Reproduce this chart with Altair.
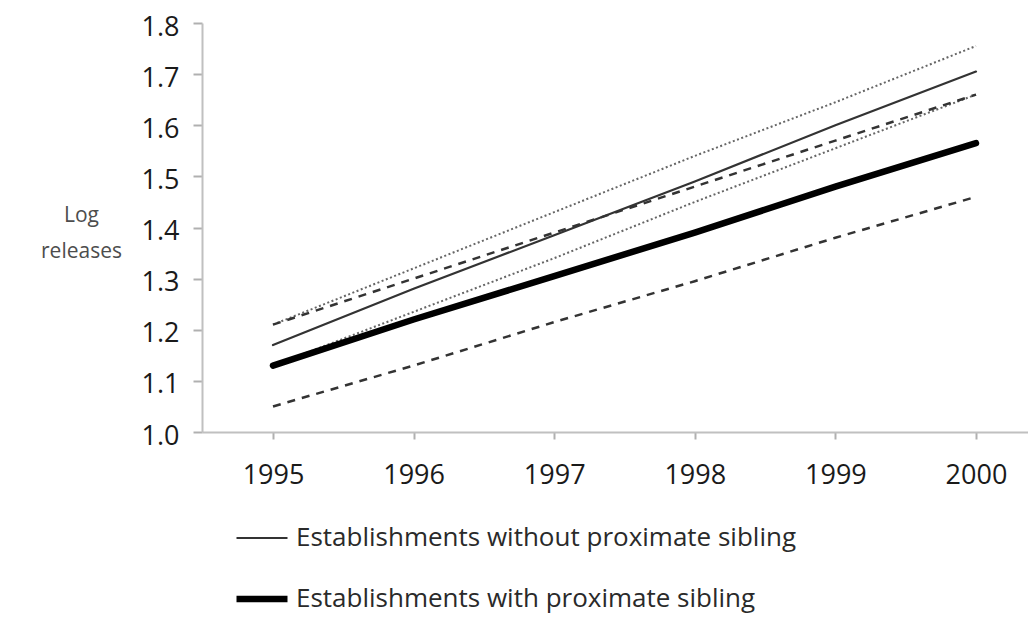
import altair as alt
import pandas as pd

years = [1995, 1996, 1997, 1998, 1999, 2000]

without_sib = [1.17, 1.28, 1.385, 1.49, 1.60, 1.705]
with_sib = [1.13, 1.22, 1.305, 1.39, 1.48, 1.565]

without_upper = [1.21, 1.32, 1.43, 1.54, 1.645, 1.755]
without_lower = [1.13, 1.235, 1.34, 1.45, 1.555, 1.66]
with_upper = [1.21, 1.30, 1.39, 1.48, 1.57, 1.66]
with_lower = [1.05, 1.13, 1.215, 1.295, 1.38, 1.46]

y_ticks = [1.0, 1.1, 1.2, 1.3, 1.4, 1.5, 1.6, 1.7, 1.8]

name_without = "Establishments without proximate sibling"
name_with = "Establishments with proximate sibling"

main_df = pd.DataFrame(
    {"year": years * 2,
     "value": without_sib + with_sib,
     "series": [name_without] * 6 + [name_with] * 6}
)
dotted_df = pd.DataFrame(
    {"year": years * 2,
     "value": without_upper + without_lower,
     "line": ["up"] * 6 + ["low"] * 6}
)
dashed_df = pd.DataFrame(
    {"year": years * 2,
     "value": with_upper + with_lower,
     "line": ["up"] * 6 + ["low"] * 6}
)

x_enc = alt.X(
    "year:Q",
    scale=alt.Scale(domain=[1994.495, 2000.37], nice=False, zero=False),
    axis=alt.Axis(
        values=years, format="d", title=None, grid=False,
        labelFontSize=27, labelColor="#1a1a1a", labelPadding=23,
        domainColor="#c0c0c0", domainWidth=2, tickColor="#b0b0b0",
        tickWidth=2, tickSize=7, labelFlush=False,
    ),
)
y_enc = alt.Y(
    "value:Q",
    scale=alt.Scale(domain=[1.0, 1.8], nice=False, zero=False),
    axis=alt.Axis(
        values=y_ticks, format=".1f", grid=False,
        title=["Log", "releases"], titleAngle=0, titleAlign="center",
        titleBaseline="middle", titleX=-121, titleY=192,
        titleFontSize=21, titleFontWeight="normal", titleColor="#4d4d4d",
        titleLineHeight=36,
        labelFontSize=27, labelColor="#1a1a1a", labelPadding=14,
        labelOffset=4,
        domainColor="#c0c0c0", domainWidth=2, tickColor="#b0b0b0",
        tickWidth=2, tickSize=9,
    ),
)

dotted = alt.Chart(dotted_df).mark_line(
    strokeDash=[2, 2.5], color="#666666", strokeWidth=2
).encode(x=x_enc, y=y_enc, detail="line:N")

dashed = alt.Chart(dashed_df).mark_line(
    strokeDash=[8, 7], color="#333333", strokeWidth=2.5
).encode(x=x_enc, y=y_enc, detail="line:N")

legend = alt.Legend(
    title=None, orient="none", legendX=31, legendY=488, direction="vertical",
    symbolType="stroke", symbolSize=2600, labelFontSize=26,
    labelColor="#2a2a2a", labelOffset=5, rowPadding=19, padding=0,
    labelLimit=0,
)

main = alt.Chart(main_df).mark_line(strokeCap="round").encode(
    x=x_enc,
    y=y_enc,
    color=alt.Color(
        "series:N",
        scale=alt.Scale(domain=[name_without, name_with], range=["#333333", "#000000"]),
        legend=legend,
    ),
    strokeWidth=alt.StrokeWidth(
        "series:N",
        scale=alt.Scale(domain=[name_without, name_with], range=[2.2, 6.5]),
        legend=legend,
    ),
)

chart = (
    alt.layer(dotted, dashed, main)
    .properties(
        width=826,
        height=409,
        autosize=alt.AutoSizeParams(type="none"),
        padding={"left": 194, "top": 15, "right": 0, "bottom": 186},
    )
    .configure(font="Open Sans")
    .configure_view(stroke=None)
)

chart.save("out.html", embed_options={"renderer": "svg", "actions": False})
